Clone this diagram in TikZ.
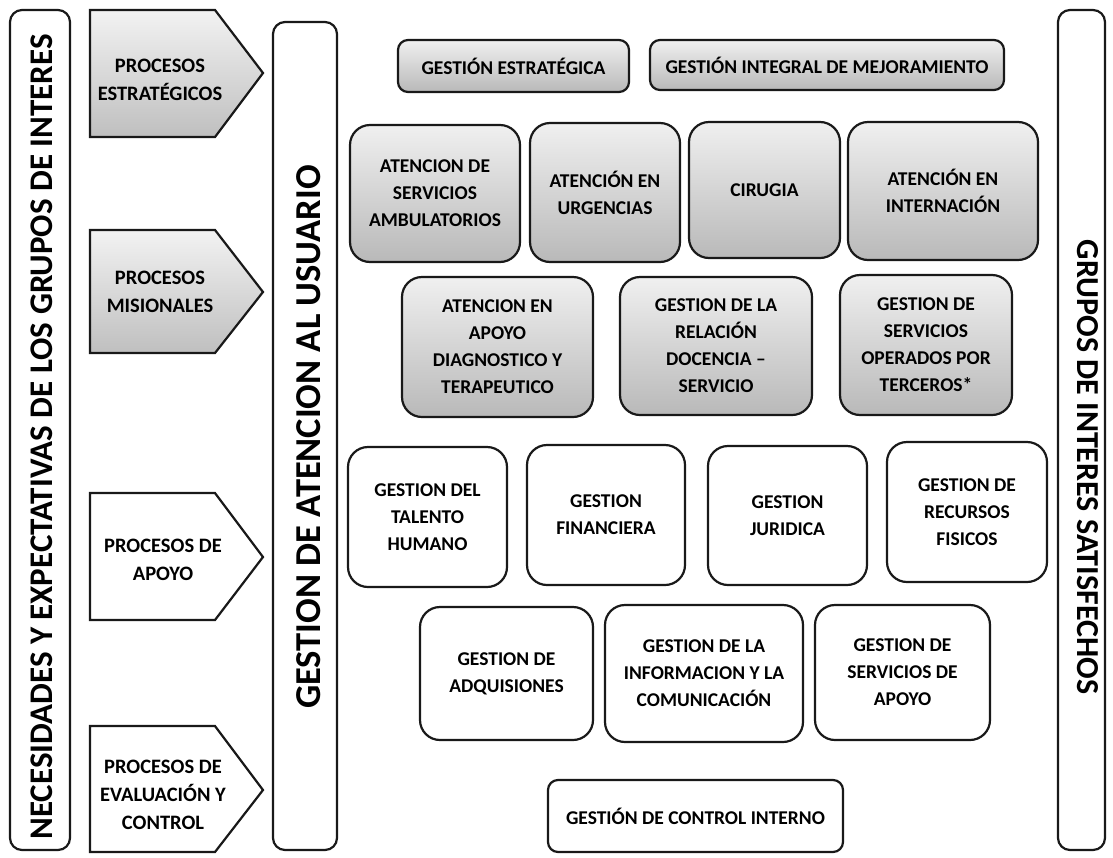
\documentclass[tikz,border=0pt]{standalone}
\usepackage{fontspec}
\setmainfont{Carlito}
\begin{document}
\begin{tikzpicture}[x=1pt,y=-1pt,
  bx/.style={draw=black!90, line width=2.2pt, align=center, font=\fontsize{19.5}{27}\selectfont\bfseries, inner sep=2pt},
  gbox/.style={bx, top color=gray!12, bottom color=gray!55},
  wbox/.style={bx, fill=white},
  pent/.style={draw=black!90, line width=2.2pt, line join=miter},
  gpent/.style={pent, top color=gray!10, bottom color=gray!50},
  ptxt/.style={align=center, font=\fontsize{20.5}{28}\selectfont\bfseries},
  bar/.style={draw=black!90, line width=2.2pt, rounded corners=12pt}]
\useasboundingbox (0,0) rectangle (1113,857);

% side bars
\node[bar, minimum width=60, minimum height=840] (lbar) at (40,430) {};
\node[rotate=90, font=\fontsize{33}{38}\selectfont\bfseries] (ltxt) at (42,437) {NECESIDADES Y EXPECTATIVAS DE LOS GRUPOS DE INTERES};
\node[bar, minimum width=64, minimum height=828] (mbar) at (305,436) {};
\node[rotate=90, font=\fontsize{36.5}{42}\selectfont\bfseries] (mtxt) at (309,437) {GESTION DE ATENCION AL USUARIO};
\node[bar, minimum width=47, minimum height=840] (rbar) at (1081.5,430) {};
\node[rotate=-90, font=\fontsize{32}{37}\selectfont\bfseries] (rtxt) at (1088,467) {GRUPOS DE INTERES SATISFECHOS};

% pentagons
\path[gpent] (90,10) -- (215,10) -- (263,73) -- (215,137) -- (90,137) -- cycle;
\node[ptxt] (pe) at (160,80) {PROCESOS\\ESTRATÉGICOS};
\path[gpent] (90,230) -- (215,230) -- (263,292) -- (215,353) -- (90,353) -- cycle;
\node[ptxt] (pm) at (160,292) {PROCESOS\\MISIONALES};
\path[pent, fill=white] (90,493) -- (215,493) -- (263,557) -- (215,620) -- (90,620) -- cycle;
\node[ptxt] (pa) at (163,560) {PROCESOS DE\\APOYO};
\path[pent, fill=white] (90,726) -- (215,726) -- (263,790) -- (215,852) -- (90,852) -- cycle;
\node[ptxt] (pv) at (163,795) {PROCESOS DE\\EVALUACIÓN Y\\CONTROL};

% row 1
\node[gbox, rounded corners=10pt, minimum width=231, minimum height=52] (ge) at (513.5,66) {GESTIÓN ESTRATÉGICA};
\node[gbox, rounded corners=10pt, minimum width=354, minimum height=50] (gim) at (827,65) {GESTIÓN INTEGRAL DE MEJORAMIENTO};
% row 2
\node[gbox, rounded corners=20pt, minimum width=170, minimum height=137] (asa) at (435,193.5) {ATENCION DE\\SERVICIOS\\AMBULATORIOS};
\node[gbox, rounded corners=20pt, minimum width=150, minimum height=139] (aur) at (605,192.5) {ATENCIÓN EN\\URGENCIAS};
\node[gbox, rounded corners=20pt, minimum width=151, minimum height=136] (cir) at (764.5,190) {CIRUGIA};
\node[gbox, rounded corners=20pt, minimum width=190, minimum height=138] (ain) at (943,191) {ATENCIÓN EN\\INTERNACIÓN};
% row 3
\node[gbox, rounded corners=20pt, minimum width=191, minimum height=140] (aad) at (497.5,347) {ATENCION EN\\APOYO\\DIAGNOSTICO Y\\TERAPEUTICO};
\node[gbox, rounded corners=20pt, minimum width=192, minimum height=138] (grd) at (716,346) {GESTION DE LA\\RELACIÓN\\DOCENCIA –\\SERVICIO};
\node[gbox, rounded corners=20pt, minimum width=172, minimum height=140] (gso) at (926,345) {GESTION DE\\SERVICIOS\\OPERADOS POR\\TERCEROS*};
% row 4
\node[wbox, rounded corners=20pt, minimum width=159, minimum height=140] (gth) at (427.5,517) {GESTION DEL\\TALENTO\\HUMANO};
\node[wbox, rounded corners=20pt, minimum width=158, minimum height=140] (gfi) at (606,515) {GESTION\\FINANCIERA};
\node[wbox, rounded corners=20pt, minimum width=159, minimum height=139] (gju) at (787.5,515.5) {GESTION\\JURIDICA};
\node[wbox, rounded corners=20pt, minimum width=160, minimum height=140] (grf) at (967,512) {GESTION DE\\RECURSOS\\FISICOS};
% row 5
\node[wbox, rounded corners=20pt, minimum width=173, minimum height=133] (gad) at (506.5,673.5) {GESTION DE\\ADQUISIONES};
\node[wbox, rounded corners=20pt, minimum width=198, minimum height=137] (gic) at (704,673.5) {GESTION DE LA\\INFORMACION Y LA\\COMUNICACIÓN};
\node[wbox, rounded corners=20pt, minimum width=175, minimum height=135] (gsa) at (902.5,672.5) {GESTION DE\\SERVICIOS DE\\APOYO};
% row 6
\node[wbox, rounded corners=10pt, minimum width=295, minimum height=72] (gci) at (695.5,816) {GESTIÓN DE CONTROL INTERNO};
\end{tikzpicture}
\end{document}
